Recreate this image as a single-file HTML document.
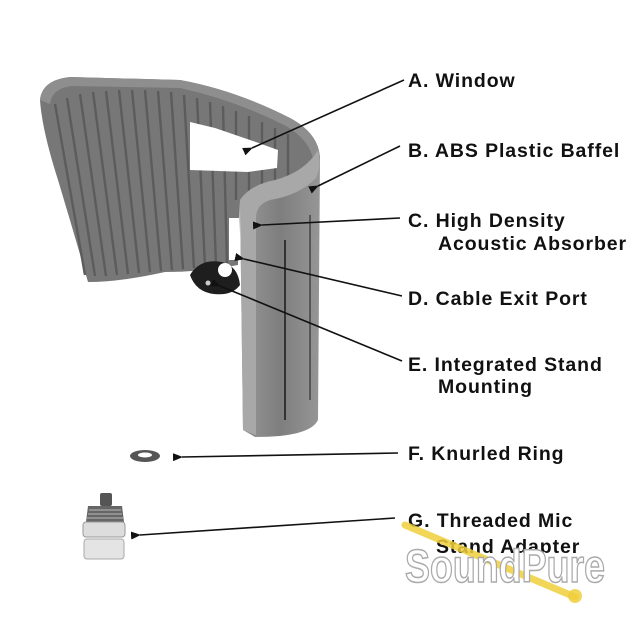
<!DOCTYPE html>
<html><head><meta charset="utf-8"><style>
html,body{margin:0;padding:0;background:#fff;}
svg{display:block;}
text{font-family:"Liberation Sans",Arial,sans-serif;font-weight:bold;font-size:19.5px;letter-spacing:0.9px;fill:#111;}
</style></head><body>
<svg width="640" height="639" viewBox="0 0 640 639" xmlns="http://www.w3.org/2000/svg">
<defs>
<marker id="ar" markerWidth="10" markerHeight="8" refX="1" refY="4" orient="auto" markerUnits="userSpaceOnUse">
<path d="M10,0 L0,4 L10,8 Z" fill="#111"/>
</marker>
<linearGradient id="gc" x1="0" x2="1"><stop offset="0" stop-color="#999"/><stop offset="0.5" stop-color="#7e7e7e"/><stop offset="1" stop-color="#969696"/></linearGradient>
</defs>
<path d="M40,100 Q42,80 70,77 L180,80 Q235,90 290,118 Q320,134 320,160 L240,200 L238,265 Q200,272 165,272 Q120,282 88,282 Q76,240 58,180 Q42,130 40,100 Z" fill="#777"/>
<path d="M40,100 Q42,80 70,77 L180,80 Q235,90 290,118 Q320,134 320,160 L314,162 Q310,140 286,126 Q235,100 180,88 L72,86 Q52,88 50,104 Z" fill="#8e8e8e"/>
<g stroke="#5c5c5c" stroke-width="2.4">
<line x1="55" y1="104" x2="85" y2="275"/><line x1="67" y1="98" x2="95" y2="276"/>
<line x1="80" y1="94" x2="106" y2="276"/><line x1="93" y1="92" x2="117" y2="275"/>
<line x1="106" y1="91" x2="128" y2="274"/><line x1="119" y1="90" x2="139" y2="273"/>
<line x1="132" y1="90" x2="150" y2="272"/><line x1="145" y1="90" x2="161" y2="271"/>
<line x1="158" y1="91" x2="172" y2="270"/><line x1="171" y1="92" x2="183" y2="269"/>
<line x1="184" y1="95" x2="194" y2="268"/><line x1="197" y1="98" x2="205" y2="267"/>
<line x1="210" y1="102" x2="216" y2="265"/><line x1="223" y1="106" x2="227" y2="264"/>
<line x1="236" y1="111" x2="236" y2="200"/><line x1="249" y1="116" x2="249" y2="195"/>
<line x1="262" y1="122" x2="262" y2="190"/><line x1="275" y1="128" x2="275" y2="185"/>
<line x1="288" y1="134" x2="288" y2="180"/>
</g>
<path d="M190,122 L215,128 L250,140 L278,150 L277,168 L248,172 L190,170 Z" fill="#fff"/>
<rect x="229" y="218" width="10" height="42" fill="#fff"/>
<path d="M240,200 Q250,185 275,180 Q305,172 318,150 L320,160 L318,420 Q310,437 255,437 L243,430 Z" fill="url(#gc)"/>
<path d="M240,200 Q250,185 275,180 Q305,172 318,150 Q322,165 316,178 Q300,195 270,200 Q255,205 256,220 L256,435 L243,430 Z" fill="#a8a8a8"/>
<line x1="285" y1="240" x2="285" y2="420" stroke="#333" stroke-width="2"/>
<line x1="310" y1="215" x2="310" y2="400" stroke="#444" stroke-width="1.5"/>
<path d="M190,275 Q200,258 222,262 Q238,266 240,285 Q232,296 214,294 Q196,292 190,275 Z" fill="#1e1e1e"/>
<circle cx="225" cy="270" r="7" fill="#fff"/>
<circle cx="208" cy="283" r="2.5" fill="#ccc"/>
<ellipse cx="145" cy="456" rx="15" ry="6" fill="#555"/>
<ellipse cx="145" cy="455" rx="7" ry="2.5" fill="#fff"/>
<rect x="100" y="493" width="12" height="13" rx="2" fill="#555"/>
<path d="M88,506 L122,506 L124,522 L86,522 Z" fill="#666"/>
<g stroke="#bbb" stroke-width="1"><line x1="89" y1="510" x2="121" y2="510"/><line x1="88" y1="514" x2="122" y2="514"/><line x1="87" y1="518" x2="123" y2="518"/></g>
<rect x="83" y="522" width="42" height="15" rx="3" fill="#ddd" stroke="#999"/>
<rect x="84" y="539" width="40" height="20" rx="3" fill="#e4e4e4" stroke="#aaa"/>
<g stroke="#111" stroke-width="1.6" fill="none" marker-end="url(#ar)">
<line x1="404" y1="80" x2="252" y2="148"/>
<line x1="400" y1="146" x2="318" y2="186"/>
<line x1="400" y1="218" x2="262" y2="225"/>
<line x1="402" y1="296" x2="244" y2="259"/>
<line x1="402" y1="361" x2="220" y2="286"/>
<line x1="398" y1="453" x2="182" y2="457"/>
<line x1="395" y1="518" x2="140" y2="535"/>
</g>
<text x="408" y="87">A. Window</text>
<text x="408" y="157">B. ABS Plastic Baffel</text>
<text x="408" y="227">C. High Density</text>
<text x="438" y="250">Acoustic Absorber</text>
<text x="408" y="305">D. Cable Exit Port</text>
<text x="408" y="371">E. Integrated Stand</text>
<text x="438" y="393">Mounting</text>
<text x="408" y="460">F. Knurled Ring</text>
<text x="408" y="527">G. Threaded Mic</text>
<text x="436" y="553">Stand Adapter</text>
<g stroke="#f0cf3c" stroke-width="7" stroke-linecap="round" opacity="0.85">
<line x1="405" y1="525" x2="575" y2="597"/>
</g>
<circle cx="575" cy="596" r="7" fill="#f0cf3c" opacity="0.85"/>
<text x="405" y="582" textLength="200" lengthAdjust="spacingAndGlyphs" style="font-family:'Liberation Sans Narrow','Liberation Sans',sans-serif;font-weight:bold;font-size:46px;letter-spacing:0;fill:#fff;stroke:#aaa;stroke-width:1.5;">SoundPure</text>
</svg>
</body></html>
